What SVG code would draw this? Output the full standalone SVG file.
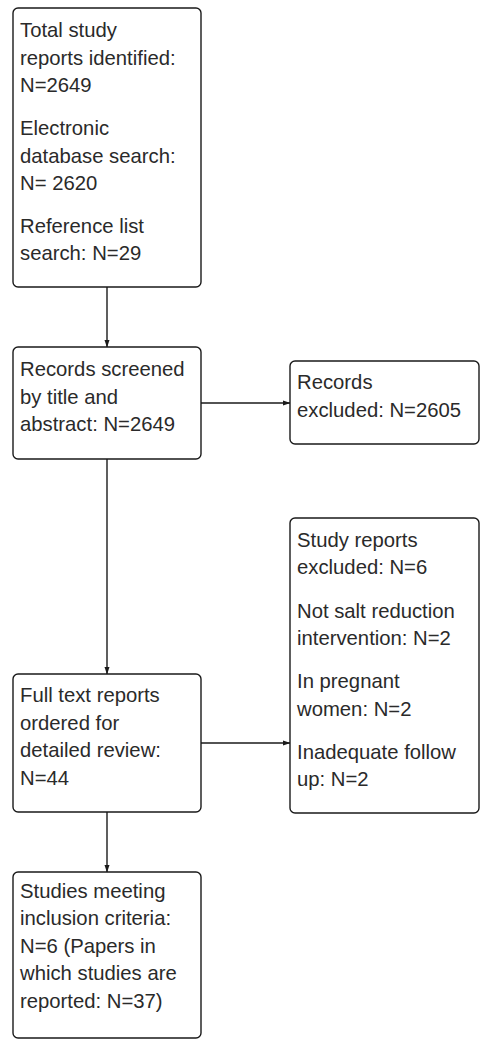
<svg xmlns="http://www.w3.org/2000/svg" width="494" height="1049" viewBox="0 0 494 1049">
<style>
.box{fill:#fff;stroke:#1a1a1a;stroke-width:1.4}
.t{font-family:"Liberation Sans",Arial,sans-serif;font-size:20.3px;fill:#2a2a2a}
.c{stroke:#1a1a1a;stroke-width:1.4;fill:none;marker-end:url(#ah)}
</style>
<defs>
<marker id="ah" markerWidth="8" markerHeight="6" refX="7" refY="3" orient="auto" markerUnits="userSpaceOnUse">
<path d="M0,0.5 L7.5,3 L0,5.5 Z" fill="#1a1a1a"/>
</marker>
</defs>
<rect width="494" height="1049" fill="#fff"/>
<g id="connectors">
<path class="c" d="M107,287 V347"/>
<path class="c" d="M201,403 H290"/>
<path class="c" d="M107,459 V674"/>
<path class="c" d="M201,743 H290"/>
<path class="c" d="M107,812 V872"/>
</g>
<g id="n1">
<rect class="box" x="13" y="8" width="188" height="279" rx="5"/>
<text class="t" x="20" y="37">Total study</text>
<text class="t" x="20" y="64.5">reports identified:</text>
<text class="t" x="20" y="92">N=2649</text>
<text class="t" x="20" y="135">Electronic</text>
<text class="t" x="20" y="162.5">database search:</text>
<text class="t" x="20" y="190">N= 2620</text>
<text class="t" x="20" y="232.5">Reference list</text>
<text class="t" x="20" y="260">search: N=29</text>
</g>
<g id="n2">
<rect class="box" x="13" y="347" width="188" height="112" rx="5"/>
<text class="t" x="20" y="376">Records screened</text>
<text class="t" x="20" y="403.5">by title and</text>
<text class="t" x="20" y="431">abstract: N=2649</text>
</g>
<g id="n3">
<rect class="box" x="290" y="361" width="189" height="83" rx="5"/>
<text class="t" x="297" y="389">Records</text>
<text class="t" x="297" y="417">excluded: N=2605</text>
</g>
<g id="n4">
<rect class="box" x="290" y="518" width="189" height="295" rx="5"/>
<text class="t" x="297" y="547">Study reports</text>
<text class="t" x="297" y="574">excluded: N=6</text>
<text class="t" x="297" y="617.5">Not salt reduction</text>
<text class="t" x="297" y="645">intervention: N=2</text>
<text class="t" x="297" y="688">In pregnant</text>
<text class="t" x="297" y="715.5">women: N=2</text>
<text class="t" x="297" y="758.5">Inadequate follow</text>
<text class="t" x="297" y="786">up: N=2</text>
</g>
<g id="n5">
<rect class="box" x="13" y="674" width="188" height="138" rx="5"/>
<text class="t" x="20" y="702">Full text reports</text>
<text class="t" x="20" y="729.5">ordered for</text>
<text class="t" x="20" y="757">detailed review:</text>
<text class="t" x="20" y="784.5">N=44</text>
</g>
<g id="n6">
<rect class="box" x="13" y="872" width="188" height="166" rx="5"/>
<text class="t" x="20" y="897.5">Studies meeting</text>
<text class="t" x="20" y="925">inclusion criteria:</text>
<text class="t" x="20" y="952.5">N=6 (Papers in</text>
<text class="t" x="20" y="980">which studies are</text>
<text class="t" x="20" y="1008">reported: N=37)</text>
</g>
</svg>
